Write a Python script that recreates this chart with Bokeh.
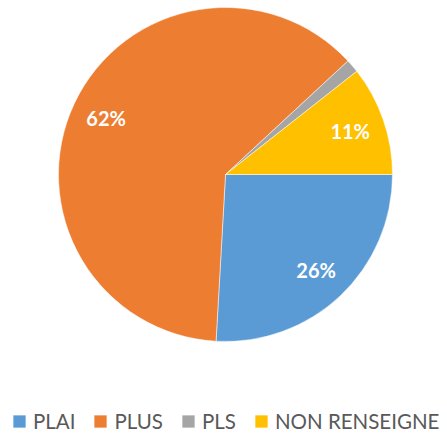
import math
from bokeh.plotting import figure
from bokeh.models import Range1d, ColumnDataSource, Legend, LegendItem
from bokeh.core.properties import value
from bokeh.embed import file_html
from bokeh.resources import INLINE

categories = ["PLAI", "PLUS", "PLS", "NON RENSEIGNE"]
shares = [25.9, 62.2, 1.3, 10.6]
colors = ["#5B9BD5", "#ED7D31", "#A5A5A5", "#FFC000"]
show_label = [True, True, False, True]

W, H = 447, 433
cx, cy, R = 225, 433 - 174, 167

total = sum(shares)
starts, ends, lx, ly, ltxt = [], [], [], [], []
cum = 0.0
for s, show in zip(shares, show_label):
    a0 = -cum / total * 2 * math.pi
    cum += s
    a1 = -cum / total * 2 * math.pi
    starts.append(a1)
    ends.append(a0)
    if show:
        mid = (a0 + a1) / 2
        lx.append(cx + 0.79 * R * math.cos(mid))
        ly.append(cy + 0.79 * R * math.sin(mid))
        ltxt.append(f"{round(s)}%")

p = figure(width=W, height=H, x_range=Range1d(0, W), y_range=Range1d(0, H),
           output_backend="svg", toolbar_location=None, min_border=0,
           x_axis_location=None, y_axis_location=None)
p.grid.visible = False
p.outline_line_color = None

renderers = []
for i in range(len(categories)):
    r = p.wedge(x=cx, y=cy, radius=R, start_angle=starts[i], end_angle=ends[i],
                fill_color=colors[i], line_color="white", line_width=0.5)
    renderers.append(r)

p.text(x=lx, y=ly, text=ltxt, text_color="white", text_font=value("Lato"),
       text_font_style="bold", text_font_size="20px", text_align="center",
       text_baseline="middle")

legend = Legend(items=[LegendItem(label=c, renderers=[r]) for c, r in zip(categories, renderers)],
                orientation="horizontal", location=(11, 0), padding=0, margin=0,
                spacing=17, label_standoff=6, glyph_width=16, glyph_height=16,
                label_text_font="Lato", label_text_font_size="20.5px",
                label_text_color="#595959", border_line_color=None,
                background_fill_alpha=0)
p.add_layout(legend, "center")

open("out.html", "w").write(file_html(p, INLINE))
